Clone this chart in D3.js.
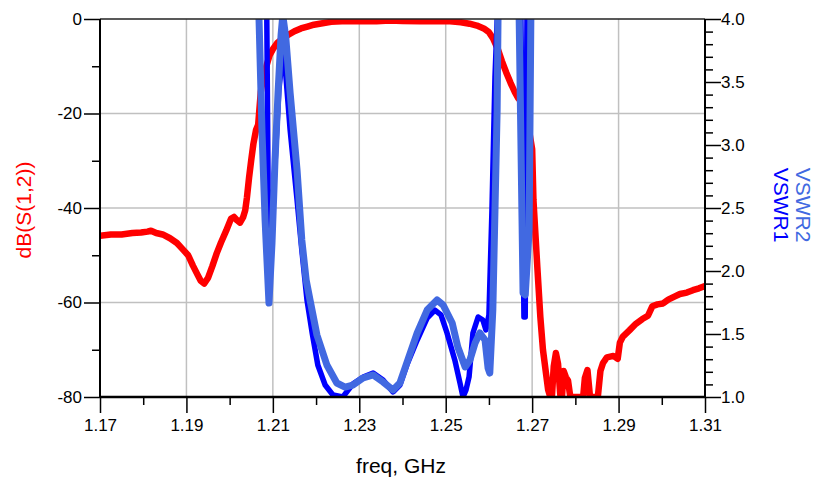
<!DOCTYPE html>
<html>
<head>
<meta charset="utf-8">
<script src="https://cdnjs.cloudflare.com/ajax/libs/d3/7.8.5/d3.min.js"></script>
<style>
  body { margin: 0; background: #fff; }
  text { font-family: "Liberation Sans", Arial, sans-serif; }
</style>
</head>
<body>
<div id="chart"></div>
<script>
// dB(S(1,2)) trace
var freqS12 = [1.1700, 1.1725, 1.1750, 1.1775, 1.1795, 1.1810, 1.1818, 1.1830, 1.1845, 1.1862,
  1.1878, 1.1890, 1.1904, 1.1915, 1.1925, 1.1933, 1.1941, 1.1950, 1.1960, 1.1970,
  1.1980, 1.1992, 1.2003, 1.2010, 1.2017, 1.2024, 1.2031, 1.2036, 1.2040, 1.2045,
  1.2050, 1.2055, 1.2061, 1.2066, 1.2072, 1.2077, 1.2084, 1.2092, 1.2100, 1.2110,
  1.2122, 1.2135, 1.2150, 1.2165, 1.2180, 1.2195, 1.2215, 1.2235, 1.2260, 1.2300,
  1.2340, 1.2370, 1.2400, 1.2440, 1.2480, 1.2510, 1.2535, 1.2555, 1.2572, 1.2588,
  1.2600, 1.2610, 1.2620, 1.2630, 1.2640, 1.2650, 1.2660, 1.2668, 1.2675, 1.2690,
  1.2700, 1.2703, 1.2712, 1.2719, 1.2725, 1.2737, 1.2742, 1.2746, 1.2750, 1.2755,
  1.2760, 1.2765, 1.2769, 1.2773, 1.2778, 1.2783, 1.2788, 1.2794, 1.2818, 1.2822,
  1.2828, 1.2834, 1.2852, 1.2858, 1.2864, 1.2873, 1.2888, 1.2898, 1.2903, 1.2910,
  1.2925, 1.2940, 1.2955, 1.2968, 1.2978, 1.2990, 1.3003, 1.3015, 1.3028, 1.3042,
  1.3058, 1.3072, 1.3086, 1.3100];
var dbS12 = [-45.9, -45.6, -45.6, -45.3, -45.2, -45.0, -44.8, -45.3, -45.6, -46.4,
  -47.4, -48.6, -50.0, -52.2, -54.0, -55.4, -56.0, -54.8, -52.3, -49.6,
  -47.3, -44.8, -42.3, -41.9, -42.6, -43.1, -42.0, -40.5, -37.8, -33.5,
  -29.8, -26.4, -23.5, -22.4, -15.5, -12.6, -10.3, -7.8, -6.4, -5.1,
  -4.2, -3.4, -2.6, -2.0, -1.6, -1.2, -0.9, -0.6, -0.5, -0.4,
  -0.5, -0.3, -0.4, -0.5, -0.4, -0.5, -0.7, -1.0, -1.4, -2.0,
  -2.8, -4.2, -6.2, -8.9, -11.3, -13.5, -15.5, -16.8, -17.5, -22.0,
  -27.5, -38.3, -52.5, -63.1, -70.0, -78.5, -80.0, -79.6, -73.5, -70.7,
  -73.0, -79.5, -80.0, -74.5, -75.8, -76.5, -79.8, -80.0, -80.0, -76.0,
  -74.3, -80.0, -80.0, -74.5, -72.8, -71.6, -71.3, -71.9, -68.5, -67.2,
  -65.9, -64.5, -63.5, -62.8, -60.8, -60.4, -60.2, -59.4, -58.8, -58.2,
  -57.9, -57.4, -57.0, -56.5];

// VSWR1 trace
var freqV1 = [1.1700, 1.2082, 1.2086, 1.2089, 1.2093, 1.2103, 1.2114, 1.2123, 1.2130, 1.2140,
  1.2156, 1.2167, 1.2179, 1.2191, 1.2204, 1.2221, 1.2239, 1.2262, 1.2285, 1.2309,
  1.2332, 1.2355, 1.2378, 1.2394, 1.2410, 1.2434, 1.2457, 1.2475, 1.2489, 1.2503,
  1.2521, 1.2533, 1.2540, 1.2547, 1.2554, 1.2563, 1.2575, 1.2586, 1.2593, 1.2600,
  1.2607, 1.2614, 1.2619, 1.2623, 1.2670, 1.2674, 1.2681, 1.2684, 1.2688, 1.2693,
  1.3100];
var vswr1 = [6.0, 4.6, 4.0, 2.667, 2.01, 2.72, 3.44, 3.73, 3.556, 3.119,
  2.563, 2.167, 1.770, 1.508, 1.254, 1.095, 1.016, 1.000, 1.103, 1.159,
  1.190, 1.135, 1.040, 1.095, 1.254, 1.452, 1.627, 1.690, 1.651, 1.508,
  1.294, 1.111, 1.000, 1.056, 1.159, 1.508, 1.635, 1.611, 1.532, 1.651,
  2.484, 3.540, 3.99, 4.6, 4.6, 4.0, 1.635, 1.635, 4.0, 4.6,
  6.0];

// VSWR2 trace
var freqV2 = [1.1700, 1.2063, 1.2068, 1.2075, 1.2082, 1.2091, 1.2098, 1.2105, 1.2112, 1.2119,
  1.2123, 1.2130, 1.2140, 1.2156, 1.2167, 1.2177, 1.2186, 1.2202, 1.2225, 1.2248,
  1.2267, 1.2285, 1.2309, 1.2332, 1.2355, 1.2378, 1.2394, 1.2410, 1.2434, 1.2457,
  1.2480, 1.2494, 1.2515, 1.2528, 1.2545, 1.2556, 1.2568, 1.2579, 1.2591, 1.2598,
  1.2602, 1.2609, 1.2614, 1.2619, 1.2621, 1.2626, 1.2665, 1.2670, 1.2679, 1.2684,
  1.2693, 1.2697, 1.2702, 1.3100];
var vswr2 = [6.0, 4.6, 4.0, 3.095, 2.405, 1.746, 2.222, 2.881, 3.413, 3.873,
  4.03, 3.849, 3.413, 2.802, 2.246, 1.929, 1.770, 1.492, 1.254, 1.111,
  1.079, 1.095, 1.151, 1.175, 1.119, 1.056, 1.111, 1.270, 1.508, 1.690,
  1.770, 1.730, 1.587, 1.397, 1.238, 1.294, 1.429, 1.508, 1.452, 1.230,
  1.190, 1.690, 2.484, 3.278, 3.99, 4.6, 4.6, 4.0, 1.825, 1.810,
  2.325, 4.0, 4.6, 6.0];

// Tick values
var xMajor = [1.17, 1.19, 1.21, 1.23, 1.25, 1.27, 1.29, 1.31];
var xMinor = [1.18, 1.20, 1.22, 1.24, 1.26, 1.28, 1.30];
var xGrid = [1.19, 1.21, 1.23, 1.25, 1.27, 1.29];
var dbMajor = [0, -20, -40, -60, -80];
var dbMinor = [-10, -30, -50, -70];
var dbGrid = [-20, -40, -60];
var vswrMajor = [1.0, 1.5, 2.0, 2.5, 3.0, 3.5, 4.0];
var vswrMinor = [1.1, 1.2, 1.3, 1.4, 1.6, 1.7, 1.8, 1.9, 2.1, 2.2, 2.3, 2.4,
  2.6, 2.7, 2.8, 2.9, 3.1, 3.2, 3.3, 3.4, 3.6, 3.7, 3.8, 3.9];

function renderChart() {
  // Chart Size
  var width = 827, height = 487;
  var plotLeft = 100, plotRight = 705, plotTop = 19, plotBottom = 397;

  var svg = d3.select('#chart')
              .append('svg')
              .attr('width', width)
              .attr('height', height);

  var xScale = d3.scaleLinear().domain([1.17, 1.31]).range([plotLeft, plotRight]);
  var yLeft = d3.scaleLinear().domain([-80, 0]).range([plotBottom, plotTop]);
  var yRight = d3.scaleLinear().domain([1, 4]).range([plotBottom, plotTop]);

  // Grid
  svg.append('g')
     .selectAll('line')
     .data(xGrid)
     .enter()
     .append('line')
     .attr('x1', function(d) { return xScale(d); })
     .attr('x2', function(d) { return xScale(d); })
     .attr('y1', plotTop)
     .attr('y2', plotBottom)
     .attr('stroke', '#c0c0c0')
     .attr('stroke-width', 1.5);

  svg.append('g')
     .selectAll('line')
     .data(dbGrid)
     .enter()
     .append('line')
     .attr('x1', plotLeft)
     .attr('x2', plotRight)
     .attr('y1', function(d) { return yLeft(d); })
     .attr('y2', function(d) { return yLeft(d); })
     .attr('stroke', '#c0c0c0')
     .attr('stroke-width', 1.5);

  // Traces
  svg.append('clipPath')
     .attr('id', 'plot-clip')
     .append('rect')
     .attr('x', plotLeft)
     .attr('y', plotTop)
     .attr('width', plotRight - plotLeft)
     .attr('height', plotBottom - plotTop);

  var plot = svg.append('g').attr('clip-path', 'url(#plot-clip)');

  function drawTrace(freqs, values, yScale, color, lineWidth) {
    var line = d3.line()
                 .x(function(d, i) { return xScale(freqs[i]); })
                 .y(function(d) { return yScale(d); });
    plot.append('path')
        .datum(values)
        .attr('d', line)
        .attr('fill', 'none')
        .attr('stroke', color)
        .attr('stroke-width', lineWidth)
        .attr('stroke-linejoin', 'round');
  }

  drawTrace(freqS12, dbS12, yLeft, '#ff0000', 6.5);
  drawTrace(freqV1, vswr1, yRight, '#0000ff', 5.5);
  drawTrace(freqV2, vswr2, yRight, '#4169e1', 7);

  // Axes
  function styleAxis(g) {
    g.attr('font-size', null).attr('font-family', null);
    g.select('.domain').remove();
    g.selectAll('line').attr('stroke', '#000').attr('stroke-width', 1.5);
    g.selectAll('text')
     .attr('fill', '#000')
     .style('font-size', '17px');
  }

  svg.append('g')
     .attr('transform', 'translate(0,' + plotBottom + ')')
     .call(d3.axisBottom(xScale).tickValues(xMajor).tickSize(16).tickPadding(6)
             .tickFormat(d3.format('.2f')))
     .call(styleAxis);
  svg.append('g')
     .attr('transform', 'translate(0,' + plotBottom + ')')
     .call(d3.axisBottom(xScale).tickValues(xMinor).tickSize(8).tickFormat(''))
     .call(styleAxis);

  svg.append('g')
     .attr('transform', 'translate(' + plotLeft + ',0)')
     .call(d3.axisLeft(yLeft).tickValues(dbMajor).tickSize(16).tickPadding(2)
             .tickFormat(function(d) { return String(d); }))
     .call(styleAxis);
  svg.append('g')
     .attr('transform', 'translate(' + plotLeft + ',0)')
     .call(d3.axisLeft(yLeft).tickValues(dbMinor).tickSize(8).tickFormat(''))
     .call(styleAxis);

  svg.append('g')
     .attr('transform', 'translate(' + plotRight + ',0)')
     .call(d3.axisRight(yRight).tickValues(vswrMajor).tickSize(16).tickPadding(0)
             .tickFormat(d3.format('.1f')))
     .call(styleAxis);
  svg.append('g')
     .attr('transform', 'translate(' + plotRight + ',0)')
     .call(d3.axisRight(yRight).tickValues(vswrMinor).tickSize(8).tickFormat(''))
     .call(styleAxis);

  // Frame
  svg.append('line')
     .attr('x1', plotLeft).attr('x2', plotRight).attr('y1', plotTop).attr('y2', plotTop)
     .attr('stroke', '#222').attr('stroke-width', 1.5);
  svg.append('line')
     .attr('x1', plotLeft).attr('x2', plotRight).attr('y1', plotBottom).attr('y2', plotBottom)
     .attr('stroke', '#000').attr('stroke-width', 2.5);
  svg.append('line')
     .attr('x1', plotLeft).attr('x2', plotLeft).attr('y1', plotTop).attr('y2', plotBottom)
     .attr('stroke', '#000').attr('stroke-width', 2);
  svg.append('line')
     .attr('x1', plotRight).attr('x2', plotRight).attr('y1', plotTop).attr('y2', plotBottom)
     .attr('stroke', '#000').attr('stroke-width', 2);

  // Axis titles
  svg.append('text')
     .attr('x', 401)
     .attr('y', 473)
     .attr('text-anchor', 'middle')
     .style('font-size', '21px')
     .attr('fill', '#000')
     .text('freq, GHz');

  svg.append('text')
     .attr('transform', 'translate(31,210) rotate(-90)')
     .attr('text-anchor', 'middle')
     .style('font-size', '21px')
     .attr('fill', '#ff0000')
     .text('dB(S(1,2))');

  svg.append('text')
     .attr('transform', 'translate(774,205) rotate(90)')
     .attr('text-anchor', 'middle')
     .style('font-size', '21px')
     .attr('fill', '#0000ff')
     .text('VSWR1');

  svg.append('text')
     .attr('transform', 'translate(796,205) rotate(90)')
     .attr('text-anchor', 'middle')
     .style('font-size', '21px')
     .attr('fill', '#4169e1')
     .text('VSWR2');
}

renderChart();
</script>
</body>
</html>
